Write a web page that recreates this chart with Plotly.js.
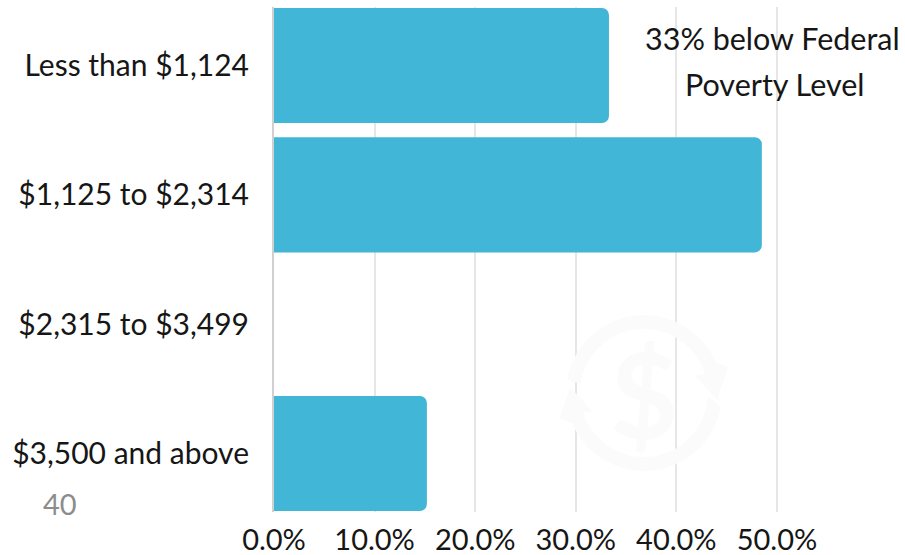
<!DOCTYPE html>
<html>
<head>
<meta charset="utf-8">
<script src="https://cdn.plot.ly/plotly-3.0.1.min.js"></script>
<style>html,body{margin:0;padding:0;background:#fff}#chart{width:905px;height:555px}</style>
</head>
<body>
<div id="chart"></div>
<script>
const incomeBands = ['Less than $1,124', '$1,125 to $2,314', '$2,315 to $3,499', '$3,500 and above'];
const shareOfHouseholds = [33.3, 48.5, 0, 15.2];
const tickValues = [0, 10, 20, 30, 40, 50];
const tickLabels = ['0.0%', '10.0%', '20.0%', '30.0%', '40.0%', '50.0%'];
const noteLines = ['33% below Federal', 'Poverty Level'];
const pageNumber = '40';

const W = 905, H = 555;
const plot = {l: 274, r: 787, t: 7, b: 512};
const textFont = 'Lato, Carlito, "Open Sans", sans-serif';
const inkColor = '#161616';
const markColor = '#fbfbfb';

// Paper-relative position of a pixel on the page
const px = x => (x - plot.l) / (plot.r - plot.l);
const py = y => (plot.b - y) / (plot.b - plot.t);

// Arc as line segments, angles in degrees, pixel offsets from the emblem centre (y up)
function arc(r, from, to) {
  const pts = [];
  const steps = Math.ceil(Math.abs(to - from) / 4);
  for (let i = 0; i <= steps; i++) {
    const a = (from + (to - from) * i / steps) * Math.PI / 180;
    pts.push((r * Math.cos(a)).toFixed(1) + ',' + (r * Math.sin(a)).toFixed(1));
  }
  return pts;
}
function arrowPath(outerFrom, outerTo, head, innerFrom, innerTo) {
  const pts = [...arc(78, outerFrom, outerTo), ...head, ...arc(64, innerFrom, innerTo)];
  return 'M' + pts.join(' L') + ' Z';
}

// Faint pair of circular arrows around the dollar sign
const emblemArcs = [
  arrowPath(170, 23, ['84,26', '73,-7', '51,18'], 17, 172),
  arrowPath(-10, -157, ['-84,-25', '-74,6', '-51,-19'], -163, -3)
];
const emblemShapes = emblemArcs.map(path => ({
  type: 'path', layer: 'above', path,
  xref: 'paper', yref: 'paper',
  xsizemode: 'pixel', ysizemode: 'pixel',
  xanchor: px(644), yanchor: py(393),
  fillcolor: markColor, line: {width: 0}
}));

const data = [{
  type: 'bar',
  orientation: 'h',
  y: incomeBands,
  x: shareOfHouseholds,
  width: 0.89,
  marker: {color: '#41b6d7', line: {width: 0}},
  hoverinfo: 'x+y'
}];

const layout = {
  width: W, height: H,
  margin: {l: plot.l, r: W - plot.r, t: plot.t, b: H - plot.b, pad: 0},
  paper_bgcolor: '#fff', plot_bgcolor: '#fff',
  showlegend: false,
  barcornerradius: 7,
  font: {family: textFont, size: 30, color: inkColor},
  xaxis: {
    range: [0, 51], tickmode: 'array', tickvals: tickValues, ticktext: tickLabels,
    showgrid: true, gridcolor: '#e6e6e6', gridwidth: 1.5, zeroline: false,
    showline: false, ticks: 'outside', ticklen: 2, tickcolor: 'rgba(0,0,0,0)',
    tickfont: {family: textFont, size: 29, color: inkColor},
    automargin: false
  },
  yaxis: {
    type: 'category', categoryorder: 'array', categoryarray: incomeBands,
    autorange: false, range: [3.452, -0.452],
    showgrid: false, zeroline: false, showline: true, linecolor: '#d0d0d0', linewidth: 2,
    ticks: 'outside', ticklen: 17, tickcolor: 'rgba(0,0,0,0)',
    tickfont: {family: textFont, size: 30, color: inkColor},
    automargin: false
  },
  shapes: emblemShapes,
  annotations: [
    {xref: 'paper', yref: 'paper', x: px(772), y: py(38), text: noteLines[0], showarrow: false, xanchor: 'center', yanchor: 'middle', font: {family: textFont, size: 30.5, color: inkColor}},
    {xref: 'paper', yref: 'paper', x: px(775), y: py(84), text: noteLines[1], showarrow: false, xanchor: 'center', yanchor: 'middle', font: {family: textFont, size: 30.5, color: inkColor}},
    {xref: 'paper', yref: 'paper', x: px(60), y: py(503), text: pageNumber, showarrow: false, xanchor: 'center', yanchor: 'middle', font: {family: textFont, size: 29, color: '#8c8c8c'}},
    {xref: 'paper', yref: 'paper', x: px(644), y: py(393), text: '$', showarrow: false, xanchor: 'center', yanchor: 'middle', font: {family: textFont, size: 118, weight: 700, color: markColor}}
  ]
};

Plotly.newPlot('chart', data, layout, {displayModeBar: false, responsive: false});
</script>
</body>
</html>
